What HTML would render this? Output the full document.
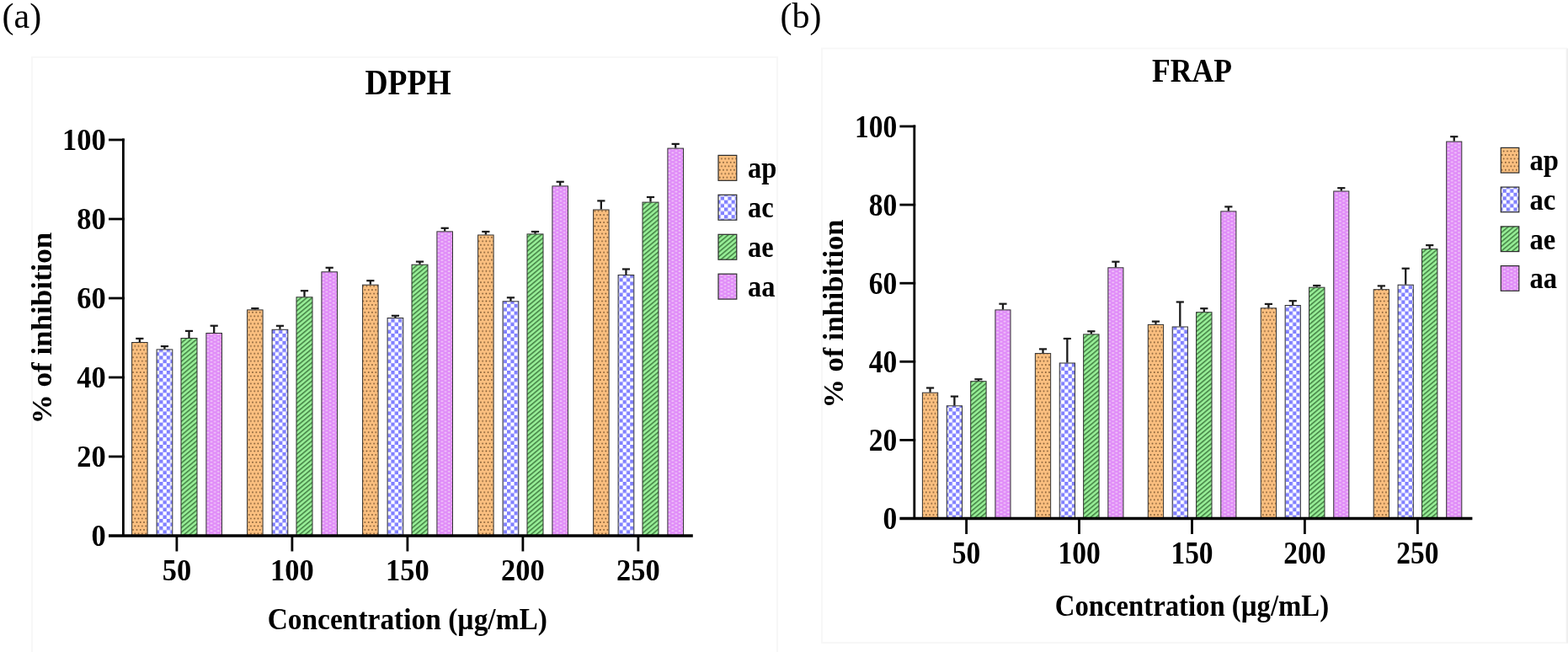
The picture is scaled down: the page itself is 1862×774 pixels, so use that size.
<!DOCTYPE html>
<html><head><meta charset="utf-8"><title>DPPH and FRAP</title>
<style>
html,body{margin:0;padding:0;background:#fff;}
body{width:1862px;height:774px;overflow:hidden;position:relative;}
svg{position:absolute;left:0;top:0;}
text{font-family:"Liberation Serif","Times New Roman",serif;}
.b{font-weight:bold;}
</style></head><body>
<svg width="1862" height="774" viewBox="0 0 1862 774">

<defs>
 <pattern id="pOr" patternUnits="userSpaceOnUse" width="4.3" height="8.9">
  <rect width="4.3" height="8.9" fill="#fcc080"/>
  <circle cx="1.2" cy="1.5" r="0.9" fill="#7a5630"/>
  <circle cx="3.35" cy="5.95" r="0.9" fill="#7a5630"/>
 </pattern>
 <pattern id="pBl" patternUnits="userSpaceOnUse" width="8.6" height="8.8">
  <rect width="8.6" height="8.8" fill="#ffffff"/>
  <rect x="0" y="0" width="4.3" height="4.4" fill="#8080ff"/>
  <rect x="4.3" y="4.4" width="4.3" height="4.4" fill="#8080ff"/>
 </pattern>
 <pattern id="pGr" patternUnits="userSpaceOnUse" width="4.2" height="10" patternTransform="rotate(50)">
  <rect width="4.2" height="10" fill="#98f098"/>
  <rect width="1.8" height="10" fill="#4e8e4e"/>
 </pattern>
 <pattern id="pVi" patternUnits="userSpaceOnUse" width="8.3" height="4.4">
  <rect width="8.3" height="4.4" fill="#e08cf8"/>
  <ellipse cx="2" cy="1" rx="1.6" ry="1.0" fill="#efc2f9"/>
  <ellipse cx="6.15" cy="3.2" rx="1.6" ry="1.0" fill="#efc2f9"/>
 </pattern>
</defs>

<rect x="38" y="67.8" width="885" height="720" fill="#fff" stroke="#f7f7f7" stroke-width="1.8"/>
<rect x="976" y="57.5" width="884.3" height="705.5" fill="#fff" stroke="#f7f7f7" stroke-width="1.8"/>
<rect x="1860.3" y="57.6" width="1.7" height="706" fill="#eeeeee"/>
<text transform="translate(2.50,33.00)" font-size="42" text-anchor="start">(a)</text>
<text transform="translate(926.50,33.00)" font-size="42" text-anchor="start">(b)</text>
<text class="b" transform="translate(484.50,111.60) scale(0.8940,1)" font-size="42.0" text-anchor="middle">DPPH</text>
<text class="b" transform="translate(1415.50,96.80) scale(0.8860,1)" font-size="40.3" text-anchor="middle">FRAP</text>
<rect x="156.60" y="406.50" width="18.50" height="229.50" fill="url(#pOr)" stroke="#303030" stroke-width="1.0"/>
<line x1="165.85" y1="406.00" x2="165.85" y2="401.90" stroke="#1a1a1a" stroke-width="2.3"/>
<line x1="161.25" y1="401.90" x2="170.45" y2="401.90" stroke="#1a1a1a" stroke-width="2.2"/>
<rect x="186.10" y="414.90" width="18.70" height="221.10" fill="url(#pBl)" stroke="#303030" stroke-width="1.0"/>
<line x1="195.45" y1="414.40" x2="195.45" y2="411.10" stroke="#1a1a1a" stroke-width="2.3"/>
<line x1="190.85" y1="411.10" x2="200.05" y2="411.10" stroke="#1a1a1a" stroke-width="2.2"/>
<rect x="215.00" y="401.50" width="19.00" height="234.50" fill="url(#pGr)" stroke="#303030" stroke-width="1.0"/>
<line x1="224.50" y1="401.00" x2="224.50" y2="392.90" stroke="#1a1a1a" stroke-width="2.3"/>
<line x1="219.90" y1="392.90" x2="229.10" y2="392.90" stroke="#1a1a1a" stroke-width="2.2"/>
<rect x="244.90" y="395.50" width="18.60" height="240.50" fill="url(#pVi)" stroke="#303030" stroke-width="1.0"/>
<line x1="254.20" y1="395.00" x2="254.20" y2="386.70" stroke="#1a1a1a" stroke-width="2.3"/>
<line x1="249.60" y1="386.70" x2="258.80" y2="386.70" stroke="#1a1a1a" stroke-width="2.2"/>
<rect x="293.60" y="367.90" width="18.50" height="268.10" fill="url(#pOr)" stroke="#303030" stroke-width="1.0"/>
<line x1="302.85" y1="367.40" x2="302.85" y2="366.10" stroke="#1a1a1a" stroke-width="2.3"/>
<line x1="298.25" y1="366.10" x2="307.45" y2="366.10" stroke="#1a1a1a" stroke-width="2.2"/>
<rect x="323.10" y="391.30" width="18.70" height="244.70" fill="url(#pBl)" stroke="#303030" stroke-width="1.0"/>
<line x1="332.45" y1="390.80" x2="332.45" y2="386.80" stroke="#1a1a1a" stroke-width="2.3"/>
<line x1="327.85" y1="386.80" x2="337.05" y2="386.80" stroke="#1a1a1a" stroke-width="2.2"/>
<rect x="352.00" y="352.80" width="19.00" height="283.20" fill="url(#pGr)" stroke="#303030" stroke-width="1.0"/>
<line x1="361.50" y1="352.30" x2="361.50" y2="345.20" stroke="#1a1a1a" stroke-width="2.3"/>
<line x1="356.90" y1="345.20" x2="366.10" y2="345.20" stroke="#1a1a1a" stroke-width="2.2"/>
<rect x="381.90" y="322.80" width="18.60" height="313.20" fill="url(#pVi)" stroke="#303030" stroke-width="1.0"/>
<line x1="391.20" y1="322.30" x2="391.20" y2="317.80" stroke="#1a1a1a" stroke-width="2.3"/>
<line x1="386.60" y1="317.80" x2="395.80" y2="317.80" stroke="#1a1a1a" stroke-width="2.2"/>
<rect x="430.60" y="338.20" width="18.50" height="297.80" fill="url(#pOr)" stroke="#303030" stroke-width="1.0"/>
<line x1="439.85" y1="337.70" x2="439.85" y2="333.20" stroke="#1a1a1a" stroke-width="2.3"/>
<line x1="435.25" y1="333.20" x2="444.45" y2="333.20" stroke="#1a1a1a" stroke-width="2.2"/>
<rect x="460.10" y="377.50" width="18.70" height="258.50" fill="url(#pBl)" stroke="#303030" stroke-width="1.0"/>
<line x1="469.45" y1="377.00" x2="469.45" y2="374.80" stroke="#1a1a1a" stroke-width="2.3"/>
<line x1="464.85" y1="374.80" x2="474.05" y2="374.80" stroke="#1a1a1a" stroke-width="2.2"/>
<rect x="489.00" y="314.20" width="19.00" height="321.80" fill="url(#pGr)" stroke="#303030" stroke-width="1.0"/>
<line x1="498.50" y1="313.70" x2="498.50" y2="310.60" stroke="#1a1a1a" stroke-width="2.3"/>
<line x1="493.90" y1="310.60" x2="503.10" y2="310.60" stroke="#1a1a1a" stroke-width="2.2"/>
<rect x="518.90" y="274.90" width="18.60" height="361.10" fill="url(#pVi)" stroke="#303030" stroke-width="1.0"/>
<line x1="528.20" y1="274.40" x2="528.20" y2="270.80" stroke="#1a1a1a" stroke-width="2.3"/>
<line x1="523.60" y1="270.80" x2="532.80" y2="270.80" stroke="#1a1a1a" stroke-width="2.2"/>
<rect x="567.60" y="279.00" width="18.50" height="357.00" fill="url(#pOr)" stroke="#303030" stroke-width="1.0"/>
<line x1="576.85" y1="278.50" x2="576.85" y2="275.00" stroke="#1a1a1a" stroke-width="2.3"/>
<line x1="572.25" y1="275.00" x2="581.45" y2="275.00" stroke="#1a1a1a" stroke-width="2.2"/>
<rect x="597.10" y="357.80" width="18.70" height="278.20" fill="url(#pBl)" stroke="#303030" stroke-width="1.0"/>
<line x1="606.45" y1="357.30" x2="606.45" y2="353.30" stroke="#1a1a1a" stroke-width="2.3"/>
<line x1="601.85" y1="353.30" x2="611.05" y2="353.30" stroke="#1a1a1a" stroke-width="2.2"/>
<rect x="626.00" y="277.90" width="19.00" height="358.10" fill="url(#pGr)" stroke="#303030" stroke-width="1.0"/>
<line x1="635.50" y1="277.40" x2="635.50" y2="275.00" stroke="#1a1a1a" stroke-width="2.3"/>
<line x1="630.90" y1="275.00" x2="640.10" y2="275.00" stroke="#1a1a1a" stroke-width="2.2"/>
<rect x="655.90" y="220.90" width="18.60" height="415.10" fill="url(#pVi)" stroke="#303030" stroke-width="1.0"/>
<line x1="665.20" y1="220.40" x2="665.20" y2="215.80" stroke="#1a1a1a" stroke-width="2.3"/>
<line x1="660.60" y1="215.80" x2="669.80" y2="215.80" stroke="#1a1a1a" stroke-width="2.2"/>
<rect x="704.60" y="249.00" width="18.50" height="387.00" fill="url(#pOr)" stroke="#303030" stroke-width="1.0"/>
<line x1="713.85" y1="248.50" x2="713.85" y2="238.40" stroke="#1a1a1a" stroke-width="2.3"/>
<line x1="709.25" y1="238.40" x2="718.45" y2="238.40" stroke="#1a1a1a" stroke-width="2.2"/>
<rect x="734.10" y="326.50" width="18.70" height="309.50" fill="url(#pBl)" stroke="#303030" stroke-width="1.0"/>
<line x1="743.45" y1="326.00" x2="743.45" y2="319.50" stroke="#1a1a1a" stroke-width="2.3"/>
<line x1="738.85" y1="319.50" x2="748.05" y2="319.50" stroke="#1a1a1a" stroke-width="2.2"/>
<rect x="763.00" y="240.10" width="19.00" height="395.90" fill="url(#pGr)" stroke="#303030" stroke-width="1.0"/>
<line x1="772.50" y1="239.60" x2="772.50" y2="234.00" stroke="#1a1a1a" stroke-width="2.3"/>
<line x1="767.90" y1="234.00" x2="777.10" y2="234.00" stroke="#1a1a1a" stroke-width="2.2"/>
<rect x="792.90" y="176.10" width="18.60" height="459.90" fill="url(#pVi)" stroke="#303030" stroke-width="1.0"/>
<line x1="802.20" y1="175.60" x2="802.20" y2="170.90" stroke="#1a1a1a" stroke-width="2.3"/>
<line x1="797.60" y1="170.90" x2="806.80" y2="170.90" stroke="#1a1a1a" stroke-width="2.2"/>
<line x1="146.4" y1="164.6" x2="146.4" y2="636.0" stroke="#000" stroke-width="2.8"/>
<line x1="129.0" y1="636.0" x2="822.8" y2="636.0" stroke="#000" stroke-width="3.5"/>
<line x1="129.0" y1="542.0" x2="147.8" y2="542.0" stroke="#000" stroke-width="2.8"/>
<line x1="129.0" y1="448.0" x2="147.8" y2="448.0" stroke="#000" stroke-width="2.8"/>
<line x1="129.0" y1="354.0" x2="147.8" y2="354.0" stroke="#000" stroke-width="2.8"/>
<line x1="129.0" y1="260.0" x2="147.8" y2="260.0" stroke="#000" stroke-width="2.8"/>
<line x1="129.0" y1="166.0" x2="147.8" y2="166.0" stroke="#000" stroke-width="2.8"/>
<line x1="209.9" y1="636.0" x2="209.9" y2="654.5" stroke="#000" stroke-width="2.8"/>
<line x1="346.9" y1="636.0" x2="346.9" y2="654.5" stroke="#000" stroke-width="2.8"/>
<line x1="483.9" y1="636.0" x2="483.9" y2="654.5" stroke="#000" stroke-width="2.8"/>
<line x1="620.9" y1="636.0" x2="620.9" y2="654.5" stroke="#000" stroke-width="2.8"/>
<line x1="757.9" y1="636.0" x2="757.9" y2="654.5" stroke="#000" stroke-width="2.8"/>
<rect x="1095.40" y="466.20" width="18.30" height="149.30" fill="url(#pOr)" stroke="#303030" stroke-width="1.0"/>
<line x1="1104.55" y1="465.70" x2="1104.55" y2="460.50" stroke="#1a1a1a" stroke-width="2.3"/>
<line x1="1099.95" y1="460.50" x2="1109.15" y2="460.50" stroke="#1a1a1a" stroke-width="2.2"/>
<rect x="1124.30" y="481.80" width="18.20" height="133.70" fill="url(#pBl)" stroke="#303030" stroke-width="1.0"/>
<line x1="1133.40" y1="481.30" x2="1133.40" y2="470.60" stroke="#1a1a1a" stroke-width="2.3"/>
<line x1="1128.80" y1="470.60" x2="1138.00" y2="470.60" stroke="#1a1a1a" stroke-width="2.2"/>
<rect x="1152.70" y="452.70" width="18.40" height="162.80" fill="url(#pGr)" stroke="#303030" stroke-width="1.0"/>
<line x1="1161.90" y1="452.20" x2="1161.90" y2="450.20" stroke="#1a1a1a" stroke-width="2.3"/>
<line x1="1157.30" y1="450.20" x2="1166.50" y2="450.20" stroke="#1a1a1a" stroke-width="2.2"/>
<rect x="1181.90" y="367.90" width="18.10" height="247.60" fill="url(#pVi)" stroke="#303030" stroke-width="1.0"/>
<line x1="1190.95" y1="367.40" x2="1190.95" y2="360.70" stroke="#1a1a1a" stroke-width="2.3"/>
<line x1="1186.35" y1="360.70" x2="1195.55" y2="360.70" stroke="#1a1a1a" stroke-width="2.2"/>
<rect x="1229.35" y="419.60" width="18.30" height="195.90" fill="url(#pOr)" stroke="#303030" stroke-width="1.0"/>
<line x1="1238.50" y1="419.10" x2="1238.50" y2="414.40" stroke="#1a1a1a" stroke-width="2.3"/>
<line x1="1233.90" y1="414.40" x2="1243.10" y2="414.40" stroke="#1a1a1a" stroke-width="2.2"/>
<rect x="1258.25" y="431.00" width="18.20" height="184.50" fill="url(#pBl)" stroke="#303030" stroke-width="1.0"/>
<line x1="1267.35" y1="430.50" x2="1267.35" y2="402.00" stroke="#1a1a1a" stroke-width="2.3"/>
<line x1="1262.75" y1="402.00" x2="1271.95" y2="402.00" stroke="#1a1a1a" stroke-width="2.2"/>
<rect x="1286.65" y="396.90" width="18.40" height="218.60" fill="url(#pGr)" stroke="#303030" stroke-width="1.0"/>
<line x1="1295.85" y1="396.40" x2="1295.85" y2="393.30" stroke="#1a1a1a" stroke-width="2.3"/>
<line x1="1291.25" y1="393.30" x2="1300.45" y2="393.30" stroke="#1a1a1a" stroke-width="2.2"/>
<rect x="1315.85" y="317.80" width="18.10" height="297.70" fill="url(#pVi)" stroke="#303030" stroke-width="1.0"/>
<line x1="1324.90" y1="317.30" x2="1324.90" y2="310.70" stroke="#1a1a1a" stroke-width="2.3"/>
<line x1="1320.30" y1="310.70" x2="1329.50" y2="310.70" stroke="#1a1a1a" stroke-width="2.2"/>
<rect x="1363.30" y="385.40" width="18.30" height="230.10" fill="url(#pOr)" stroke="#303030" stroke-width="1.0"/>
<line x1="1372.45" y1="384.90" x2="1372.45" y2="381.60" stroke="#1a1a1a" stroke-width="2.3"/>
<line x1="1367.85" y1="381.60" x2="1377.05" y2="381.60" stroke="#1a1a1a" stroke-width="2.2"/>
<rect x="1392.20" y="388.00" width="18.20" height="227.50" fill="url(#pBl)" stroke="#303030" stroke-width="1.0"/>
<line x1="1401.30" y1="387.50" x2="1401.30" y2="358.50" stroke="#1a1a1a" stroke-width="2.3"/>
<line x1="1396.70" y1="358.50" x2="1405.90" y2="358.50" stroke="#1a1a1a" stroke-width="2.2"/>
<rect x="1420.60" y="370.70" width="18.40" height="244.80" fill="url(#pGr)" stroke="#303030" stroke-width="1.0"/>
<line x1="1429.80" y1="370.20" x2="1429.80" y2="366.20" stroke="#1a1a1a" stroke-width="2.3"/>
<line x1="1425.20" y1="366.20" x2="1434.40" y2="366.20" stroke="#1a1a1a" stroke-width="2.2"/>
<rect x="1449.80" y="250.90" width="18.10" height="364.60" fill="url(#pVi)" stroke="#303030" stroke-width="1.0"/>
<line x1="1458.85" y1="250.40" x2="1458.85" y2="245.40" stroke="#1a1a1a" stroke-width="2.3"/>
<line x1="1454.25" y1="245.40" x2="1463.45" y2="245.40" stroke="#1a1a1a" stroke-width="2.2"/>
<rect x="1497.25" y="365.80" width="18.30" height="249.70" fill="url(#pOr)" stroke="#303030" stroke-width="1.0"/>
<line x1="1506.40" y1="365.30" x2="1506.40" y2="360.90" stroke="#1a1a1a" stroke-width="2.3"/>
<line x1="1501.80" y1="360.90" x2="1511.00" y2="360.90" stroke="#1a1a1a" stroke-width="2.2"/>
<rect x="1526.15" y="362.50" width="18.20" height="253.00" fill="url(#pBl)" stroke="#303030" stroke-width="1.0"/>
<line x1="1535.25" y1="362.00" x2="1535.25" y2="357.20" stroke="#1a1a1a" stroke-width="2.3"/>
<line x1="1530.65" y1="357.20" x2="1539.85" y2="357.20" stroke="#1a1a1a" stroke-width="2.2"/>
<rect x="1554.55" y="341.20" width="18.40" height="274.30" fill="url(#pGr)" stroke="#303030" stroke-width="1.0"/>
<line x1="1563.75" y1="340.70" x2="1563.75" y2="339.00" stroke="#1a1a1a" stroke-width="2.3"/>
<line x1="1559.15" y1="339.00" x2="1568.35" y2="339.00" stroke="#1a1a1a" stroke-width="2.2"/>
<rect x="1583.75" y="227.00" width="18.10" height="388.50" fill="url(#pVi)" stroke="#303030" stroke-width="1.0"/>
<line x1="1592.80" y1="226.50" x2="1592.80" y2="223.20" stroke="#1a1a1a" stroke-width="2.3"/>
<line x1="1588.20" y1="223.20" x2="1597.40" y2="223.20" stroke="#1a1a1a" stroke-width="2.2"/>
<rect x="1631.20" y="343.70" width="18.30" height="271.80" fill="url(#pOr)" stroke="#303030" stroke-width="1.0"/>
<line x1="1640.35" y1="343.20" x2="1640.35" y2="339.40" stroke="#1a1a1a" stroke-width="2.3"/>
<line x1="1635.75" y1="339.40" x2="1644.95" y2="339.40" stroke="#1a1a1a" stroke-width="2.2"/>
<rect x="1660.10" y="338.20" width="18.20" height="277.30" fill="url(#pBl)" stroke="#303030" stroke-width="1.0"/>
<line x1="1669.20" y1="337.70" x2="1669.20" y2="318.70" stroke="#1a1a1a" stroke-width="2.3"/>
<line x1="1664.60" y1="318.70" x2="1673.80" y2="318.70" stroke="#1a1a1a" stroke-width="2.2"/>
<rect x="1688.50" y="295.60" width="18.40" height="319.90" fill="url(#pGr)" stroke="#303030" stroke-width="1.0"/>
<line x1="1697.70" y1="295.10" x2="1697.70" y2="291.10" stroke="#1a1a1a" stroke-width="2.3"/>
<line x1="1693.10" y1="291.10" x2="1702.30" y2="291.10" stroke="#1a1a1a" stroke-width="2.2"/>
<rect x="1717.70" y="168.10" width="18.10" height="447.40" fill="url(#pVi)" stroke="#303030" stroke-width="1.0"/>
<line x1="1726.75" y1="167.60" x2="1726.75" y2="162.20" stroke="#1a1a1a" stroke-width="2.3"/>
<line x1="1722.15" y1="162.20" x2="1731.35" y2="162.20" stroke="#1a1a1a" stroke-width="2.2"/>
<line x1="1085.8" y1="148.6" x2="1085.8" y2="615.5" stroke="#000" stroke-width="2.8"/>
<line x1="1068.4" y1="615.5" x2="1748.4" y2="615.5" stroke="#000" stroke-width="3.5"/>
<line x1="1068.4" y1="522.4" x2="1087.2" y2="522.4" stroke="#000" stroke-width="2.8"/>
<line x1="1068.4" y1="429.3" x2="1087.2" y2="429.3" stroke="#000" stroke-width="2.8"/>
<line x1="1068.4" y1="336.2" x2="1087.2" y2="336.2" stroke="#000" stroke-width="2.8"/>
<line x1="1068.4" y1="243.1" x2="1087.2" y2="243.1" stroke="#000" stroke-width="2.8"/>
<line x1="1068.4" y1="150.0" x2="1087.2" y2="150.0" stroke="#000" stroke-width="2.8"/>
<line x1="1147.6" y1="615.5" x2="1147.6" y2="634.0" stroke="#000" stroke-width="2.8"/>
<line x1="1281.5" y1="615.5" x2="1281.5" y2="634.0" stroke="#000" stroke-width="2.8"/>
<line x1="1415.5" y1="615.5" x2="1415.5" y2="634.0" stroke="#000" stroke-width="2.8"/>
<line x1="1549.4" y1="615.5" x2="1549.4" y2="634.0" stroke="#000" stroke-width="2.8"/>
<line x1="1683.4" y1="615.5" x2="1683.4" y2="634.0" stroke="#000" stroke-width="2.8"/>
<rect x="853.0" y="184.4" width="21.8" height="29.9" fill="url(#pOr)" stroke="#2a2a2a" stroke-width="1.2"/>
<rect x="853.0" y="231.3" width="21.8" height="29.9" fill="url(#pBl)" stroke="#2a2a2a" stroke-width="1.2"/>
<rect x="853.0" y="278.3" width="21.8" height="29.9" fill="url(#pGr)" stroke="#2a2a2a" stroke-width="1.2"/>
<rect x="853.0" y="325.2" width="21.8" height="29.9" fill="url(#pVi)" stroke="#2a2a2a" stroke-width="1.2"/>
<rect x="1782.3" y="175.4" width="21.5" height="29.7" fill="url(#pOr)" stroke="#2a2a2a" stroke-width="1.2"/>
<rect x="1782.3" y="222.1" width="21.5" height="29.7" fill="url(#pBl)" stroke="#2a2a2a" stroke-width="1.2"/>
<rect x="1782.3" y="268.9" width="21.5" height="29.7" fill="url(#pGr)" stroke="#2a2a2a" stroke-width="1.2"/>
<rect x="1782.3" y="315.6" width="21.5" height="29.7" fill="url(#pVi)" stroke="#2a2a2a" stroke-width="1.2"/>
<text class="b" transform="translate(125.60,647.60) scale(0.9350,1)" font-size="36.8" text-anchor="end">0</text>
<text class="b" transform="translate(125.60,553.60) scale(0.9350,1)" font-size="36.8" text-anchor="end">20</text>
<text class="b" transform="translate(125.60,459.60) scale(0.9350,1)" font-size="36.8" text-anchor="end">40</text>
<text class="b" transform="translate(125.60,365.60) scale(0.9350,1)" font-size="36.8" text-anchor="end">60</text>
<text class="b" transform="translate(125.60,271.60) scale(0.9350,1)" font-size="36.8" text-anchor="end">80</text>
<text class="b" transform="translate(125.60,177.60) scale(0.9350,1)" font-size="36.8" text-anchor="end">100</text>
<text class="b" transform="translate(209.90,689.20) scale(0.9350,1)" font-size="36.8" text-anchor="middle">50</text>
<text class="b" transform="translate(346.90,689.20) scale(0.9350,1)" font-size="36.8" text-anchor="middle">100</text>
<text class="b" transform="translate(483.90,689.20) scale(0.9350,1)" font-size="36.8" text-anchor="middle">150</text>
<text class="b" transform="translate(620.90,689.20) scale(0.9350,1)" font-size="36.8" text-anchor="middle">200</text>
<text class="b" transform="translate(757.90,689.20) scale(0.9350,1)" font-size="36.8" text-anchor="middle">250</text>
<text class="b" transform="translate(1065.30,628.30) scale(0.9000,1)" font-size="37.2" text-anchor="end">0</text>
<text class="b" transform="translate(1065.30,535.20) scale(0.9000,1)" font-size="37.2" text-anchor="end">20</text>
<text class="b" transform="translate(1065.30,442.10) scale(0.9000,1)" font-size="37.2" text-anchor="end">40</text>
<text class="b" transform="translate(1065.30,349.00) scale(0.9000,1)" font-size="37.2" text-anchor="end">60</text>
<text class="b" transform="translate(1065.30,255.90) scale(0.9000,1)" font-size="37.2" text-anchor="end">80</text>
<text class="b" transform="translate(1065.30,162.80) scale(0.9000,1)" font-size="37.2" text-anchor="end">100</text>
<text class="b" transform="translate(1147.60,668.80) scale(0.9000,1)" font-size="37.2" text-anchor="middle">50</text>
<text class="b" transform="translate(1281.55,668.80) scale(0.9000,1)" font-size="37.2" text-anchor="middle">100</text>
<text class="b" transform="translate(1415.50,668.80) scale(0.9000,1)" font-size="37.2" text-anchor="middle">150</text>
<text class="b" transform="translate(1549.45,668.80) scale(0.9000,1)" font-size="37.2" text-anchor="middle">200</text>
<text class="b" transform="translate(1683.40,668.80) scale(0.9000,1)" font-size="37.2" text-anchor="middle">250</text>
<text class="b" transform="translate(888.00,210.80) scale(0.9300,1)" font-size="35" text-anchor="start">ap</text>
<text class="b" transform="translate(1816.50,202.00) scale(0.9200,1)" font-size="35.5" text-anchor="start">ap</text>
<text class="b" transform="translate(888.00,257.70) scale(0.9300,1)" font-size="35" text-anchor="start">ac</text>
<text class="b" transform="translate(1816.50,248.80) scale(0.9200,1)" font-size="35.5" text-anchor="start">ac</text>
<text class="b" transform="translate(888.00,304.60) scale(0.9300,1)" font-size="35" text-anchor="start">ae</text>
<text class="b" transform="translate(1816.50,295.60) scale(0.9200,1)" font-size="35.5" text-anchor="start">ae</text>
<text class="b" transform="translate(888.00,351.50) scale(0.9300,1)" font-size="35" text-anchor="start">aa</text>
<text class="b" transform="translate(1816.50,342.40) scale(0.9200,1)" font-size="35.5" text-anchor="start">aa</text>
<text class="b" transform="translate(483.80,746.70) scale(0.9400,1)" font-size="35.6" text-anchor="middle">Concentration (µg/mL)</text>
<text class="b" transform="translate(1415.40,730.60) scale(0.9360,1)" font-size="35.0" text-anchor="middle">Concentration (µg/mL)</text>
<text class="b" transform="translate(61.00,389.50) rotate(-90) scale(1.0140,1)" font-size="34.5" text-anchor="middle">% of inhibition</text>
<text class="b" transform="translate(1001.00,372.50) rotate(-90) scale(1.0140,1)" font-size="34.0" text-anchor="middle">% of inhibition</text>
</svg>
</body></html>
